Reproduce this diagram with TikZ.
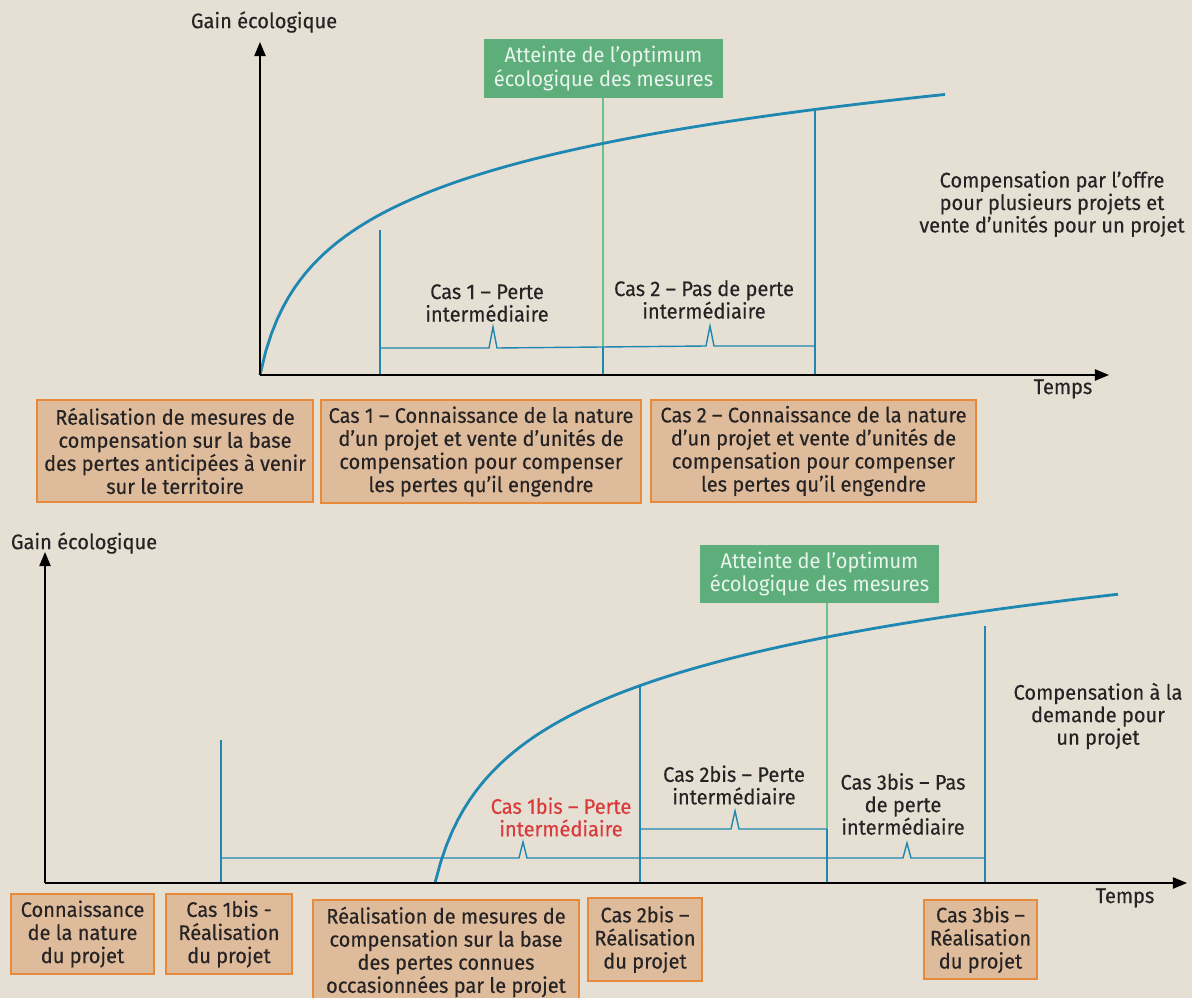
\documentclass[tikz,border=0pt]{standalone}
\usepackage{fontspec}
\setmainfont{Fira Sans}[FakeStretch=0.95,FakeBold=0.3]
\newfontfamily\greenfont{Fira Sans}[FakeStretch=0.95]
\usetikzlibrary{arrows.meta}
\definecolor{bg}{HTML}{E6DFD4}
\definecolor{blue1}{HTML}{1E88B2}
\definecolor{gfill}{HTML}{5DAE7B}
\definecolor{gtext}{HTML}{EAF5ED}
\definecolor{gline}{HTML}{6CC08A}
\definecolor{ofill}{HTML}{DEBB9B}
\definecolor{oborder}{HTML}{E88A3C}
\definecolor{txt}{HTML}{262324}
\definecolor{red1}{HTML}{D93A3A}
\begin{document}
\begin{tikzpicture}[x=0.025cm,y=-0.025cm,
  every node/.style={font=\fontsize{15}{16}\selectfont, text=txt},
  obox/.style={draw=oborder, fill=ofill, line width=1.3pt, align=center, inner sep=0pt, font=\fontsize{15}{16.4}\selectfont},
  gbox/.style={fill=gfill, text=gtext, align=center, inner sep=0pt, font=\greenfont\fontsize{15}{16.4}\selectfont},
  lbl/.style={align=center, inner sep=0pt},
  curve/.style={draw=blue1, line width=2pt},
  vline/.style={draw=blue1, line width=1.4pt},
  brk/.style={draw=blue1, line width=1pt},
  gl/.style={draw=gline, line width=1pt},
  axis/.style={draw=black, line width=1.1pt, -{Triangle[length=10pt,width=8pt]}}]
\clip (0,0) rectangle (1192,998);
\fill[bg] (0,0) rectangle (1192,998);
\useasboundingbox (0,0) rectangle (1192,998);

% ---------- top chart ----------
\coordinate (o1) at (260,375);
\coordinate (yt1) at (260,42);
\coordinate (xt1) at (1109,375);
\node[lbl] (gain1) at (264,22) {Gain écologique};
\node[lbl] (temps1) at (1063,389) {Temps};
\node[gbox, minimum width=5.975cm, minimum height=1.475cm] (opt1) at (603.5,68.5) {Atteinte de l’optimum\\écologique des mesures};
\draw[gl] (opt1.south -| 603,0) -- (603,375);
\draw[curve] plot[domain=0:685, samples=120, variable=\t] ({260+\t}, {375-73*ln(1+\t/15)});
\draw[vline] (380,230) -- (380,375);
\draw[vline] (815,110) -- (815,375);
\draw[vline] (603,347) -- (603,375);
\draw[brk] (380,348) -- (489,348) -- (493,327) -- (497,348) -- (706,346) -- (710,326) -- (714,346) -- (815,346);
\draw[axis] (o1) -- (yt1);
\draw[axis] (o1) -- (xt1);
\node[lbl] (c1) at (487,303) {Cas 1 – Perte\\intermédiaire};
\node[lbl] (c2) at (704,299.5) {Cas 2 – Pas de perte\\intermédiaire};
\node[lbl] (comp1) at (1052,204) {Compensation par l’offre\\pour plusieurs projets et\\vente d’unités pour un projet};

\node[obox, minimum width=6.9cm, minimum height=2.55cm] (b1) at (175,451) {Réalisation de mesures de\\compensation sur la base\\des pertes anticipées à venir\\sur le territoire};
\node[obox, minimum width=8cm, minimum height=2.575cm] (b2) at (481,451.5) {Cas 1 – Connaissance de la nature\\d’un projet et vente d’unités de\\compensation pour compenser\\les pertes qu’il engendre};
\node[obox, minimum width=8.125cm, minimum height=2.55cm] (b3) at (813.5,451) {Cas 2 – Connaissance de la nature\\d’un projet et vente d’unités de\\compensation pour compenser\\les pertes qu’il engendre};

% ---------- bottom chart ----------
\coordinate (o2) at (45,883);
\coordinate (yt2) at (45,552);
\coordinate (xt2) at (1187,883);
\node[lbl] (gain2) at (84,543) {Gain écologique};
\node[lbl] (temps2) at (1125,898) {Temps};
\node[gbox, minimum width=5.975cm, minimum height=1.45cm] (opt2) at (819.5,574) {Atteinte de l’optimum\\écologique des mesures};
\draw[gl] (opt2.south -| 827,0) -- (827,883);
\draw[curve] plot[domain=0:683, samples=120, variable=\t] ({435+\t}, {883-80*ln(1+\t/19)});
\draw[vline] (221,740) -- (221,883);
\draw[vline] (640,687) -- (640,883);
\draw[vline] (985,626) -- (985,883);
\draw[vline] (827,829) -- (827,883);
\draw[brk] (221,858) -- (519,858) -- (523,842) -- (527,858) -- (903,858) -- (907,843) -- (911,858) -- (985,858);
\draw[brk] (640,829) -- (731,829) -- (735,811) -- (739,829) -- (827,829);
\draw[axis] (o2) -- (yt2);
\draw[axis] (o2) -- (xt2);
\node[lbl, text=red1] (c1b) at (561,817) {Cas 1bis – Perte\\intermédiaire};
\node[lbl] (c2b) at (734,785) {Cas 2bis – Perte\\intermédiaire};
\node[lbl] (c3b) at (903,804) {Cas 3bis – Pas\\de perte\\intermédiaire};
\node[lbl] (comp2) at (1098,716) {Compensation à la\\demande pour\\un projet};

\node[obox, minimum width=3.575cm, minimum height=2cm] (bA) at (82.5,934) {Connaissance\\de la nature\\du projet};
\node[obox, minimum width=3.15cm, minimum height=2cm] (bB) at (229,934) {Cas 1bis -\\Réalisation\\du projet};
\node[obox, minimum width=6.65cm, minimum height=2.6cm] (bC) at (446,952) {Réalisation de mesures de\\compensation sur la base\\des pertes connues\\occasionnées par le projet};
\node[obox, minimum width=2.85cm, minimum height=2.075cm] (bD) at (645,939.5) {Cas 2bis –\\Réalisation\\du projet};
\node[obox, minimum width=2.825cm, minimum height=1.975cm] (bE) at (980.5,939.5) {Cas 3bis –\\Réalisation\\du projet};
\end{tikzpicture}
\end{document}
